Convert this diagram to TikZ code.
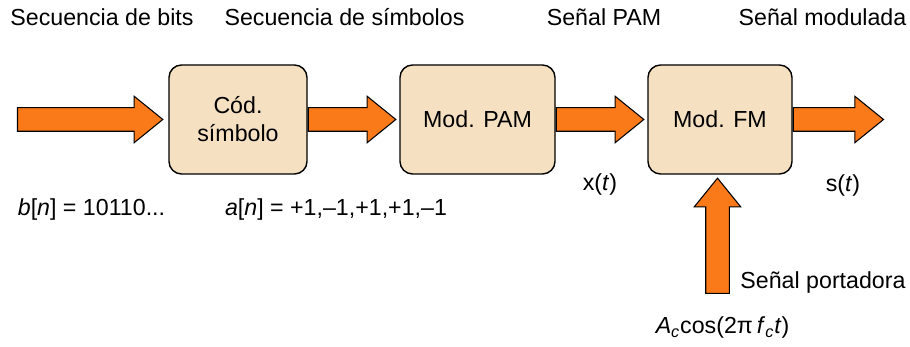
\documentclass[tikz,border=0pt]{standalone}
\usepackage{fontspec}
\setmainfont{Liberation Sans}
\usetikzlibrary{shapes.arrows,calc}

\definecolor{arroworange}{RGB}{250,122,25}
\definecolor{boxbeige}{RGB}{245,225,193}

\tikzset{
  blk/.style={draw, line width=0.8pt, fill=boxbeige, rounded corners=0.25cm,
    align=center, minimum height=2.18cm, font=\fontsize{13.2}{16}\selectfont},
  lbl/.style={inner sep=0pt, font=\fontsize{13.2}{16}\selectfont},
  fatarrow/.style={single arrow, draw, line width=0.6pt, fill=arroworange,
    inner xsep=0pt, inner ysep=0.225cm, single arrow head extend=0.23cm,
    single arrow tip angle=78, anchor=tail}
}

% thick block arrow from #1 to #2
\newcommand{\bigarrow}[2]{%
  \path let \p1=(#1), \p2=(#2),
    \n1={veclen(\x2-\x1,\y2-\y1)}, \n2={atan2(\y2-\y1,\x2-\x1)} in
    node[fatarrow, minimum height=\n1, rotate=\n2] at (\p1) {};}

\begin{document}
\begin{tikzpicture}
\useasboundingbox (0,0) rectangle (18.2,6.94);

% Blocks
\node[blk, minimum width=2.76cm] (cod) at (4.76,4.55) {Cód.\\símbolo};
\node[blk, minimum width=3.10cm] (pam) at (9.55,4.55) {Mod. PAM};
\node[blk, minimum width=2.88cm] (fm) at (14.40,4.55) {Mod. FM};

% Arrow ends
\coordinate (in) at (0.34,4.55);
\coordinate (out) at (17.66,4.55);
\coordinate (car) at (14.35,1.06);
\coordinate (codin) at ($(cod.west)+(-0.12,0)$);
\coordinate (pamin) at ($(pam.west)+(-0.08,0)$);
\coordinate (fmin) at ($(fm.west)+(-0.08,0)$);
\coordinate (carin) at ($(car |- fm.south)+(0,-0.08)$);

% Block arrows
\bigarrow{in}{codin}
\bigarrow{cod.east}{pamin}
\bigarrow{pam.east}{fmin}
\bigarrow{fm.east}{out}
\bigarrow{car}{carin}

% Top labels
\node[lbl] (tbits) at (2.04,6.60) {Secuencia de bits};
\node[lbl] (tsym) at (6.89,6.60) {Secuencia de símbolos};
\node[lbl] (tpam) at (12.08,6.60) {Señal PAM};
\node[lbl] (tmod) at (16.45,6.60) {Señal modulada};

% Signal labels
\node[lbl] (bn) at (1.83,2.74) {\textit{b}[\textit{n}] = 10110...};
\node[lbl] (an) at (6.72,2.74) {\textit{a}[\textit{n}] = +1,–1,+1,+1,–1};
\node[lbl] (xt) at (12.00,3.24) {x(\textit{t})};
\node[lbl] (st) at (16.86,3.22) {s(\textit{t})};
\node[lbl] (port) at (16.46,1.28) {Señal portadora};
\node[lbl] (acos) at (14.45,0.38) {\textit{A}\textsubscript{\textit{c}}cos(2π\,\textit{f}\textsubscript{\textit{c}}\textit{t})};
\end{tikzpicture}
\end{document}
